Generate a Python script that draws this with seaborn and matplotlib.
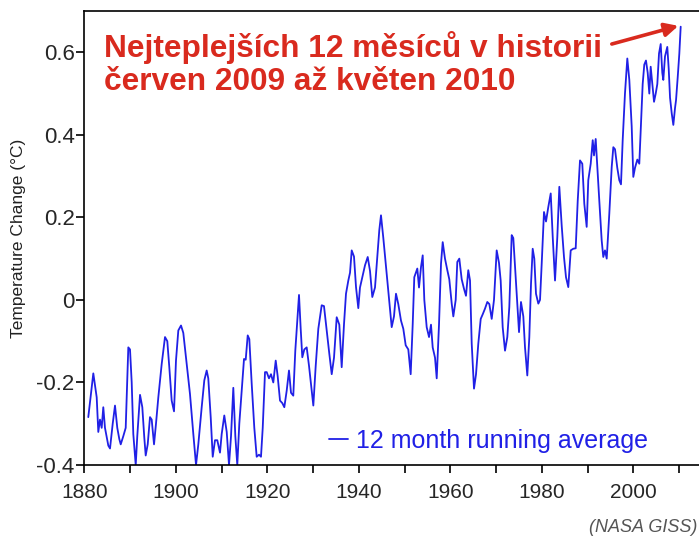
import matplotlib
matplotlib.use("Agg")
import matplotlib.pyplot as plt
import seaborn as sns
import pandas as pd

# ---- data (12-month running average, deg C) ----
years = [
    1880.87, 1881.97, 1882.71, 1883.06, 1883.43, 1883.80, 1884.15, 1884.52, 1885.25, 1885.62,
    1886.21, 1886.71, 1887.21, 1887.65, 1887.96, 1888.53, 1889.05, 1889.62, 1889.99, 1890.36,
    1890.71, 1891.24, 1891.58, 1892.18, 1892.68, 1893.11, 1893.42, 1893.86, 1894.36, 1894.73,
    1895.24, 1895.67, 1896.18, 1896.92, 1897.64, 1898.14, 1898.58, 1899.10, 1899.61, 1900.04,
    1900.55, 1901.14, 1901.64, 1902.23, 1903.10, 1903.83, 1904.42, 1904.92, 1905.66, 1906.23,
    1906.75, 1907.10, 1907.63, 1908.07, 1908.57, 1909.07, 1909.66, 1910.03, 1910.60, 1911.13,
    1911.63, 1912.07, 1912.57, 1913.01, 1913.44, 1913.88, 1914.41, 1914.91, 1915.28, 1915.72,
    1916.07, 1916.59, 1917.16, 1917.68, 1918.19, 1918.62, 1919.00, 1919.50, 1919.87, 1920.37,
    1920.81, 1921.31, 1921.84, 1922.27, 1922.78, 1923.28, 1923.72, 1924.24, 1924.74, 1925.18,
    1925.68, 1926.12, 1926.56, 1926.93, 1927.30, 1927.65, 1928.09, 1928.61, 1929.12, 1929.55,
    1930.06, 1930.58, 1931.15, 1931.89, 1932.39, 1932.98, 1933.55, 1934.08, 1934.58, 1935.17,
    1935.74, 1936.26, 1936.77, 1937.20, 1937.71, 1938.08, 1938.45, 1938.95, 1939.39, 1939.89,
    1940.26, 1940.77, 1941.36, 1941.95, 1942.45, 1942.95, 1943.54, 1944.04, 1944.48, 1944.85,
    1945.36, 1945.95, 1946.45, 1946.82, 1947.19, 1947.69, 1948.13, 1948.63, 1949.22, 1949.73,
    1950.25, 1950.82, 1951.34, 1951.78, 1952.13, 1952.79, 1953.16, 1953.60, 1953.97, 1954.32,
    1954.84, 1955.35, 1955.78, 1956.15, 1956.66, 1957.03, 1957.53, 1957.97, 1958.34, 1958.84,
    1959.35, 1959.78, 1960.31, 1960.66, 1961.18, 1961.53, 1961.97, 1962.49, 1962.99, 1963.43,
    1963.93, 1964.31, 1964.68, 1965.18, 1965.62, 1966.12, 1966.65, 1967.08, 1967.59, 1968.09,
    1968.53, 1969.05, 1969.55, 1970.14, 1970.64, 1971.01, 1971.45, 1971.96, 1972.46, 1972.90,
    1973.42, 1973.77, 1974.30, 1974.73, 1975.02, 1975.45, 1975.96, 1976.33, 1976.83, 1977.27,
    1977.64, 1978.01, 1978.36, 1978.73, 1979.24, 1979.61, 1979.98, 1980.48, 1980.92, 1981.42,
    1981.95, 1982.39, 1982.89, 1983.39, 1983.83, 1984.35, 1984.85, 1985.29, 1985.79, 1986.32,
    1986.88, 1987.41, 1987.85, 1988.35, 1988.85, 1989.29, 1989.81, 1990.16, 1990.69, 1991.13,
    1991.41, 1991.78, 1992.13, 1992.57, 1993.09, 1993.44, 1993.81, 1994.19, 1994.76, 1995.28,
    1995.63, 1996.00, 1996.50, 1996.94, 1997.31, 1997.68, 1998.18, 1998.69, 1999.13, 1999.65,
    2000.00, 2000.37, 2000.88, 2001.31, 2001.68, 2002.05, 2002.40, 2002.77, 2003.15, 2003.50,
    2003.80, 2004.15, 2004.53, 2004.90, 2005.25, 2005.62, 2005.99, 2006.34, 2006.56, 2006.93,
    2007.43, 2007.74, 2008.03, 2008.40, 2008.75, 2009.12, 2009.34, 2009.71, 2010.06, 2010.36,
]
anomaly = [
    -0.284, -0.178, -0.236, -0.320, -0.290, -0.310, -0.260, -0.310, -0.353, -0.360,
    -0.300, -0.256, -0.310, -0.337, -0.350, -0.330, -0.310, -0.115, -0.120, -0.200,
    -0.325, -0.400, -0.330, -0.230, -0.260, -0.333, -0.377, -0.350, -0.284, -0.290,
    -0.350, -0.300, -0.236, -0.155, -0.090, -0.100, -0.163, -0.244, -0.270, -0.147,
    -0.074, -0.062, -0.080, -0.139, -0.228, -0.325, -0.400, -0.350, -0.260, -0.195,
    -0.171, -0.190, -0.284, -0.380, -0.340, -0.340, -0.370, -0.325, -0.280, -0.320,
    -0.400, -0.330, -0.213, -0.330, -0.400, -0.300, -0.220, -0.143, -0.145, -0.086,
    -0.095, -0.203, -0.310, -0.380, -0.375, -0.380, -0.310, -0.175, -0.175, -0.190,
    -0.180, -0.200, -0.147, -0.185, -0.244, -0.250, -0.260, -0.220, -0.171, -0.225,
    -0.232, -0.123, -0.050, 0.012, -0.070, -0.139, -0.120, -0.115, -0.160, -0.203,
    -0.256, -0.160, -0.070, -0.013, -0.015, -0.074, -0.130, -0.180, -0.140, -0.042,
    -0.060, -0.163, -0.058, 0.015, 0.047, 0.066, 0.120, 0.105, 0.031, -0.020,
    0.030, 0.055, 0.084, 0.104, 0.070, 0.007, 0.030, 0.104, 0.169, 0.205,
    0.150, 0.080, 0.023, -0.025, -0.066, -0.040, 0.015, -0.010, -0.050, -0.070,
    -0.110, -0.120, -0.180, -0.060, 0.055, 0.076, 0.030, 0.080, 0.108, 0.000,
    -0.066, -0.090, -0.060, -0.115, -0.140, -0.190, -0.060, 0.088, 0.140, 0.100,
    0.072, 0.050, -0.009, -0.040, 0.000, 0.092, 0.100, 0.050, 0.027, 0.010,
    0.072, 0.047, -0.106, -0.215, -0.180, -0.106, -0.046, -0.035, -0.021, -0.005,
    -0.010, -0.046, 0.000, 0.120, 0.090, 0.047, -0.066, -0.123, -0.090, -0.017,
    0.157, 0.150, 0.055, -0.025, -0.078, -0.005, -0.040, -0.115, -0.183, -0.090,
    0.039, 0.124, 0.100, 0.015, -0.009, 0.000, 0.088, 0.213, 0.190, 0.225,
    0.258, 0.152, 0.047, 0.152, 0.274, 0.180, 0.104, 0.055, 0.031, 0.120,
    0.124, 0.125, 0.240, 0.338, 0.330, 0.233, 0.177, 0.290, 0.330, 0.387,
    0.350, 0.390, 0.322, 0.240, 0.144, 0.104, 0.120, 0.100, 0.210, 0.322,
    0.370, 0.365, 0.320, 0.290, 0.280, 0.387, 0.500, 0.585, 0.533, 0.420,
    0.298, 0.320, 0.340, 0.330, 0.428, 0.523, 0.570, 0.580, 0.550, 0.500,
    0.565, 0.523, 0.480, 0.500, 0.523, 0.597, 0.620, 0.550, 0.533, 0.590,
    0.613, 0.560, 0.490, 0.452, 0.424, 0.465, 0.484, 0.540, 0.597, 0.662,
]
series_label = "12 month running average"
y_ticks = [-0.4, -0.2, 0, 0.2, 0.4, 0.6]
y_ticklabels = ["-0.4", "-0.2", "0", "0.2", "0.4", "0.6"]
x_major = [1880, 1900, 1920, 1940, 1960, 1980, 2000]
x_minor = [1890, 1910, 1930, 1950, 1970, 1990, 2010]
title_lines = ["Nejteplejších 12 měsíců v historii", "červen 2009 až květen 2010"]
y_label = "Temperature Change (°C)"
source_note = "(NASA GISS)"

df = pd.DataFrame({"year": years, "anomaly": anomaly})

sns.set_style("ticks")
plt.rcParams["font.family"] = ["Liberation Sans", "DejaVu Sans"]

W, H = 699, 539
fig = plt.figure(figsize=(W / 100, H / 100), dpi=100)
left_px, right_px, top_px, bottom_px = 84.3, 699, 11, 465
ax = fig.add_axes([left_px / W, 1 - bottom_px / H,
                   (right_px - left_px) / W, (bottom_px - top_px) / H])

blue = "#2020e6"
red = "#d92a1e"

sns.lineplot(data=df, x="year", y="anomaly", ax=ax, color=blue, lw=1.3,
             estimator=None, label=series_label)

ax.set_xlim(1880, 1880 + (right_px - left_px) / 4.575)
ax.set_ylim(-0.4, 0.7)

ax.set_xticks(x_major)
ax.set_xticklabels([str(v) for v in x_major])
ax.set_xticks(x_minor, minor=True)
ax.set_yticks(y_ticks)
ax.set_yticklabels(y_ticklabels)

for s in ["left", "bottom", "top"]:
    ax.spines[s].set_visible(True)
    ax.spines[s].set_linewidth(1.2)
    ax.spines[s].set_color("black")
ax.spines["right"].set_visible(False)

ax.tick_params(axis="both", which="both", direction="out", length=6, width=1.2,
               color="black", labelsize=15)
ax.tick_params(axis="x", which="both", pad=7, top=False)
ax.tick_params(axis="y", which="both", pad=1, labelsize=16)

ax.set_xlabel("")
ax.set_ylabel("")
fig.text(19 / W, 1 - 238 / H, y_label, rotation=90, ha="center", va="center",
         fontsize=12.5, color="#222222")

# title
fig.text(104 / W, 1 - 57 / H, title_lines[0], ha="left", va="baseline",
         fontsize=22.8, fontweight="bold", color=red)
fig.text(104 / W, 1 - 90.5 / H, title_lines[1], ha="left", va="baseline",
         fontsize=22.8, fontweight="bold", color=red)

# arrow to the last value
ax.annotate("", xy=(2009.85, 0.664), xytext=(1995.3, 0.62),
            arrowprops=dict(arrowstyle="-|>", color=red, lw=2.6,
                            mutation_scale=20, shrinkA=0, shrinkB=0))

# legend
leg = ax.legend(loc="center left", bbox_to_anchor=(329 / W, 1 - 441 / H),
                bbox_transform=fig.transFigure, frameon=False, fontsize=18,
                handlelength=0.75, handletextpad=0.35, borderpad=0,
                borderaxespad=0, labelcolor=blue)
for line in leg.get_lines():
    line.set_linewidth(1.3)

fig.text(697 / W, 1 - 527 / H, source_note, ha="right", va="center",
         fontsize=13, style="italic", color="#555555")

fig.savefig("out.png", dpi=100)
